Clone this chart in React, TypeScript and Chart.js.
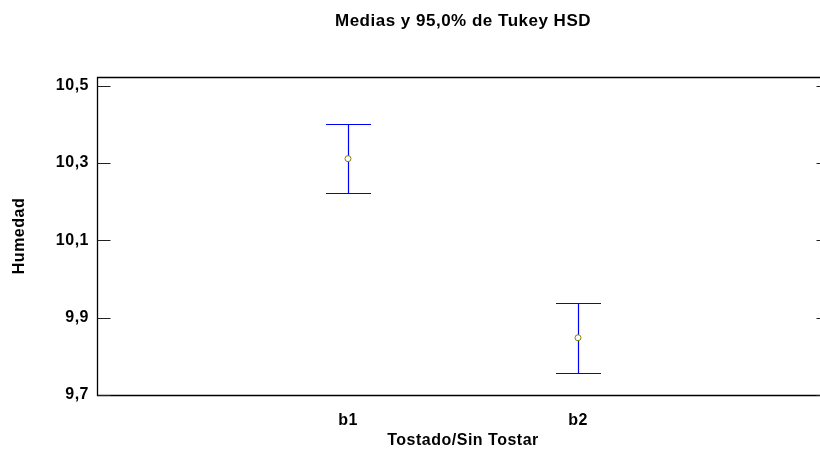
import React, { useEffect, useRef } from 'react';
import { Chart, registerables } from 'chart.js';

Chart.register(...registerables);

const chartTitle = 'Medias y 95,0% de Tukey HSD';
const xAxisTitle = 'Tostado/Sin Tostar';
const yAxisTitle = 'Humedad';
const categories = ['b1', 'b2'];
const categoryPositions = [1, 2];
const means = [10.311, 9.848];
const lowerLimits = [10.221, 9.758];
const upperLimits = [10.401, 9.938];
const yTickValues = [9.7, 9.9, 10.1, 10.3, 10.5];
const yTickLabels = ['9,7', '9,9', '10,1', '10,3', '10,5'];

const FONT = '"Liberation Sans", Arial, Helvetica, sans-serif';

const framePlugin = {
  id: 'statFrame',
  beforeUpdate(chart: any) {
    chart.ctx.letterSpacing = '0.5px';
  },
  beforeDraw(chart: any) {
    chart.ctx.letterSpacing = '0.5px';
  },
  beforeDatasetsDraw(chart: any) {
    const { ctx, scales } = chart;
    const xs = scales.x;
    const ys = scales.y;
    ctx.save();
    ctx.strokeStyle = '#0000ff';
    ctx.lineWidth = 1.2;
    const cap = 22.5;
    categoryPositions.forEach((p, i) => {
      const px = Math.round(xs.getPixelForValue(p)) + 0.5;
      const top = Math.round(ys.getPixelForValue(upperLimits[i])) + 0.5;
      const bot = Math.round(ys.getPixelForValue(lowerLimits[i])) + 0.5;
      ctx.beginPath();
      ctx.moveTo(px, top);
      ctx.lineTo(px, bot);
      ctx.moveTo(px - cap, top);
      ctx.lineTo(px + cap, top);
      ctx.moveTo(px - cap, bot);
      ctx.lineTo(px + cap, bot);
      ctx.stroke();
    });
    ctx.restore();
  },
  afterDraw(chart: any) {
    const { ctx, chartArea: a, scales } = chart;
    const ys = scales.y;
    ctx.save();
    ctx.strokeStyle = '#000000';
    ctx.lineWidth = 1.3;
    const l = Math.round(a.left) + 0.5;
    const r = Math.round(a.right) + 0.5;
    const t = Math.round(a.top) + 0.5;
    const b = Math.round(a.bottom) + 0.5;
    ctx.beginPath();
    ctx.rect(l, t, r - l, b - t);
    ctx.stroke();
    ctx.strokeStyle = '#222222';
    ctx.lineWidth = 1;
    ctx.beginPath();
    yTickValues.forEach((v) => {
      const py = Math.round(ys.getPixelForValue(v)) + 0.5;
      ctx.moveTo(l, py);
      ctx.lineTo(l + 13, py);
      ctx.moveTo(r - 13, py);
      ctx.lineTo(r, py);
    });
    ctx.stroke();
    ctx.restore();
  },
};

export default function App() {
  const ref = useRef<HTMLCanvasElement | null>(null);

  useEffect(() => {
    if (!ref.current) return;
    const tickFont = { family: FONT, size: 16, weight: 'bold' as const };
    const chart = new Chart(ref.current, {
      type: 'scatter',
      data: {
        datasets: [
          {
            data: means.map((m, i) => ({ x: categoryPositions[i], y: m })),
            pointRadius: 3,
            pointHoverRadius: 3,
            pointBorderColor: '#848400',
            pointBackgroundColor: '#ffffff',
            pointBorderWidth: 1,
          },
        ],
      },
      options: {
        animation: false,
        responsive: false,
        events: [],
        layout: { padding: { left: 0, right: 11, top: 0, bottom: 0 } },
        plugins: {
          legend: { display: false },
          tooltip: { enabled: false },
          title: {
            display: true,
            fullSize: false,
            text: chartTitle,
            color: '#000000',
            font: { family: FONT, size: 17, weight: 'bold' },
            padding: { top: 10.8, bottom: 45.8 },
          },
        },
        scales: {
          x: {
            type: 'linear',
            min: -0.0913,
            max: 3.0913,
            afterBuildTicks: (s: any) => {
              s.ticks = categoryPositions.map((v) => ({ value: v }));
            },
            afterFit: (s: any) => {
              s.height = 59;
            },
            grid: { display: false, drawTicks: false },
            border: { display: false },
            ticks: {
              autoSkip: false,
              maxRotation: 0,
              color: '#000000',
              font: tickFont,
              padding: 16,
              callback: (_v: any, i: number) => categories[i],
            },
            title: {
              display: true,
              text: xAxisTitle,
              color: '#000000',
              font: tickFont,
              padding: { top: 0, bottom: 4 },
            },
          },
          y: {
            type: 'linear',
            min: 9.7,
            max: 10.522,
            afterBuildTicks: (s: any) => {
              s.ticks = yTickValues.map((v) => ({ value: v }));
            },
            afterFit: (s: any) => {
              s.width = 97;
            },
            grid: { display: false, drawTicks: false },
            border: { display: false },
            ticks: {
              color: '#000000',
              font: tickFont,
              padding: 8,
              callback: (_v: any, i: number) => yTickLabels[i],
            },
            title: {
              display: true,
              text: yAxisTitle,
              color: '#000000',
              font: tickFont,
              padding: { top: 9.5, bottom: 0 },
            },
          },
        },
      },
      plugins: [framePlugin],
    });
    return () => chart.destroy();
  }, []);

  return (
    <div
      style={{
        position: 'fixed',
        left: 0,
        top: 0,
        width: 820,
        height: 454,
        overflow: 'hidden',
        background: '#ffffff',
      }}
    >
      <canvas ref={ref} width={840} height={454} style={{ display: 'block', width: 840, height: 454 }} />
    </div>
  );
}
